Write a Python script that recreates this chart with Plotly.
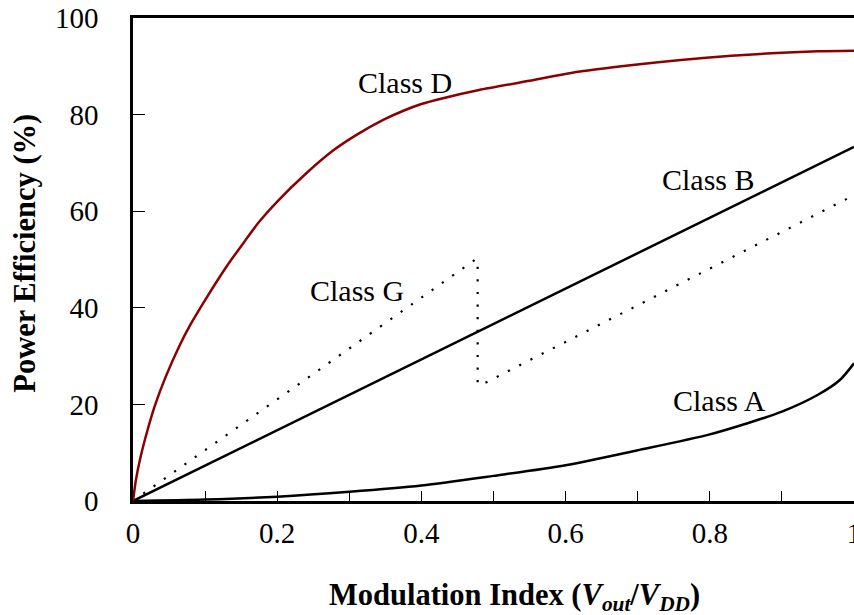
import plotly.graph_objects as go

# ---- data ----
mod_a = [0, 0.1, 0.2, 0.3, 0.4, 0.5, 0.6, 0.7, 0.8, 0.85, 0.9, 0.95, 0.98, 1.0]
eff_a = [0, 0.3, 0.9, 1.9, 3.2, 5.2, 7.4, 10.5, 13.8, 16.0, 18.5, 22.0, 25.0, 28.5]

mod_b = [0, 1.0]
eff_b = [0, 73.3]

mod_g = [0, 0.475, 0.478, 0.478, 0.481, 1.0]
eff_g = [0, 50.0, 50.0, 24.5, 23.9, 63.3]

mod_d = [0, 0.004, 0.01, 0.02, 0.03, 0.045, 0.064, 0.08, 0.1, 0.13, 0.155, 0.175, 0.2,
         0.24, 0.277, 0.31, 0.347, 0.375, 0.4, 0.43, 0.48, 0.55, 0.62, 0.69, 0.76,
         0.83, 0.9, 0.95, 1.0]
eff_d = [0, 4.3, 8.8, 14.6, 19.6, 25.6, 32.0, 36.6, 41.6, 48.6, 53.8, 57.8, 62.0,
         67.8, 72.5, 75.8, 78.9, 80.8, 82.2, 83.4, 85.1, 87.0, 88.9, 90.2, 91.3,
         92.2, 92.8, 93.1, 93.2]

labels = ["Class D", "Class B", "Class G", "Class A"]
label_x = [0.377, 0.798, 0.310, 0.813]
label_y = [86.7, 66.5, 43.5, 20.8]

x_ticks = [0, 0.2, 0.4, 0.6, 0.8, 1]
x_ticktext = ["0", "0.2", "0.4", "0.6", "0.8", "1"]
y_ticks = [0, 20, 40, 60, 80, 100]

FONT = "Liberation Serif"

fig = go.Figure()
fig.add_trace(go.Scatter(x=mod_a, y=eff_a, mode="lines",
                         line=dict(color="black", width=2.5, shape="spline", smoothing=0.8),
                         showlegend=False, hoverinfo="skip"))
fig.add_trace(go.Scatter(x=mod_b, y=eff_b, mode="lines", line=dict(color="black", width=2.5),
                         showlegend=False, hoverinfo="skip"))
fig.add_trace(go.Scatter(x=mod_g, y=eff_g, mode="lines",
                         line=dict(color="black", width=2.2, dash="2.2px,10.4px"),
                         showlegend=False, hoverinfo="skip"))
fig.add_trace(go.Scatter(x=mod_d, y=eff_d, mode="lines",
                         line=dict(color="#8b0000", width=2.5, shape="spline", smoothing=0.6),
                         showlegend=False, hoverinfo="skip"))

for t, x, y in zip(labels, label_x, label_y):
    fig.add_annotation(x=x, y=y, text=t, showarrow=False, xref="x", yref="y",
                       font=dict(family=FONT, size=30, color="black"))

fig.add_annotation(x=(514 - 133) / 721, y=-0.198, xref="paper", yref="paper",
                   text="<b>Modulation Index (<i>V<sub>out</sub></i>/<i>V<sub>DD</sub></i>)</b>",
                   showarrow=False, font=dict(family=FONT, size=30.5, color="black"),
                   xanchor="center", yanchor="middle")
fig.add_annotation(x=(25 - 133) / 721, y=0.512, xref="paper", yref="paper",
                   text="<b>Power Efficiency (%)</b>", textangle=-90,
                   showarrow=False, font=dict(family=FONT, size=30.5, color="black"),
                   xanchor="center", yanchor="middle")

fig.update_layout(
    width=854, height=615,
    margin=dict(l=133, r=0, t=18, b=114, autoexpand=False),
    paper_bgcolor="white", plot_bgcolor="white",
    font=dict(family=FONT, color="black"),
    xaxis=dict(range=[0, 1], tickvals=x_ticks, ticktext=x_ticktext, automargin=False,
               ticks="inside", ticklen=10, tickwidth=1.3, tickcolor="black",
               minor=dict(dtick=0.1, tick0=0, ticks="inside", ticklen=10, tickwidth=1.3, tickcolor="black"),
               showline=True, linecolor="black", linewidth=2.5, mirror=True,
               showgrid=False, zeroline=False, tickfont=dict(family=FONT, size=29, color="black"),
               ticklabelstandoff=4, ticklabeloverflow="allow"),
    yaxis=dict(range=[0, 100], tickvals=y_ticks, automargin=False,
               ticks="inside", ticklen=12, tickwidth=1.3, tickcolor="black",
               showline=True, linecolor="black", linewidth=2.5,
               showgrid=False, zeroline=False, tickfont=dict(family=FONT, size=29, color="black"),
               ticklabelstandoff=26, ticklabeloverflow="allow"),
)

fig.write_html("out.html")
